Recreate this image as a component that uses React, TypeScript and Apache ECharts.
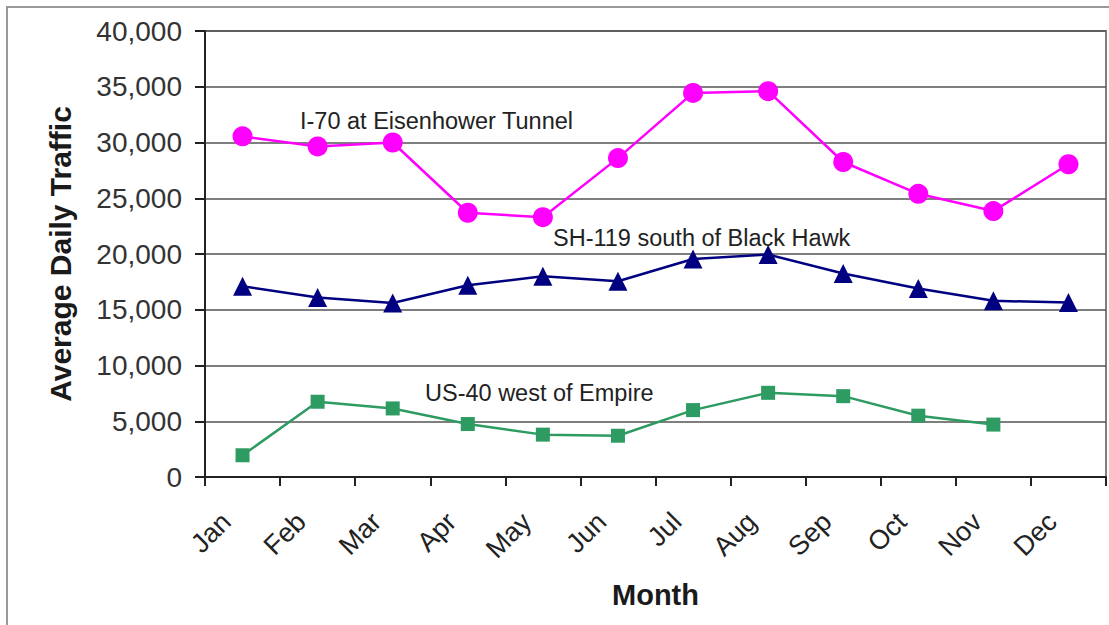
import React, { useEffect, useRef } from "react";
import * as echarts from "echarts";

const months = ["Jan", "Feb", "Mar", "Apr", "May", "Jun", "Jul", "Aug", "Sep", "Oct", "Nov", "Dec"];
const i70 = [30550, 29650, 30000, 23700, 23300, 28600, 34450, 34600, 28250, 25400, 23850, 28050];
const sh119 = [17100, 16100, 15600, 17200, 18000, 17550, 19550, 19950, 18250, 16900, 15800, 15650];
const us40 = [1950, 6750, 6150, 4750, 3800, 3700, 6000, 7550, 7250, 5500, 4700, null];
const seriesNames = ["I-70 at Eisenhower Tunnel", "SH-119 south of Black Hawk", "US-40 west of Empire"];

const FONT = "Liberation Sans, Arial, sans-serif";

export default function App() {
  const ref = useRef<HTMLDivElement>(null);
  useEffect(() => {
    const chart = echarts.init(ref.current!, null, { renderer: "svg" });
    chart.setOption({
      animation: false,
      backgroundColor: "#fff",
      textStyle: { fontFamily: FONT },
      grid: {
        left: 205,
        right: 3,
        top: 31,
        bottom: 148,
        show: true,
        borderColor: "#808080",
        borderWidth: 2,
      },
      xAxis: {
        type: "category",
        data: months,
        boundaryGap: true,
        name: "Month",
        nameLocation: "middle",
        nameGap: 103,
        nameTextStyle: { fontFamily: FONT, fontSize: 29, fontWeight: "bold", color: "#1a1a1a" },
        axisLine: { show: true, lineStyle: { color: "#222", width: 2 } },
        axisTick: { show: true, length: 9, lineStyle: { color: "#222", width: 2 } },
        axisLabel: {
          rotate: 45,
          fontSize: 27,
          color: "#222",
          margin: 24,
          padding: [0, 23, 0, 0],
          fontFamily: FONT,
        },
        splitLine: { show: false },
      },
      yAxis: {
        type: "value",
        min: 0,
        max: 40000,
        interval: 5000,
        name: "Average Daily Traffic",
        nameLocation: "middle",
        nameGap: 130,
        nameRotate: 90,
        nameTextStyle: { fontFamily: FONT, fontSize: 30, fontWeight: "bold", color: "#1a1a1a" },
        axisLine: { show: true, lineStyle: { color: "#222", width: 2 } },
        axisTick: { show: true, length: 10, lineStyle: { color: "#222", width: 2 } },
        axisLabel: {
          fontSize: 28,
          color: "#333",
          margin: 23,
          fontFamily: FONT,
          formatter: (v: number) => v.toLocaleString("en-US"),
        },
        splitLine: { show: true, lineStyle: { color: "#555", width: 1.5 } },
      },
      series: [
        {
          name: seriesNames[0],
          type: "line",
          data: i70,
          symbol: "circle",
          symbolSize: 20,
          itemStyle: { color: "#FF00FF" },
          lineStyle: { color: "#FF00FF", width: 2.5 },
          z: 3,
        },
        {
          name: seriesNames[1],
          type: "line",
          data: sh119,
          symbol: "triangle",
          symbolSize: 19,
          itemStyle: { color: "#000080" },
          lineStyle: { color: "#000080", width: 2.5 },
          z: 3,
        },
        {
          name: seriesNames[2],
          type: "line",
          data: us40,
          symbol: "rect",
          symbolSize: 14,
          itemStyle: { color: "#2E9B62" },
          lineStyle: { color: "#2E9B62", width: 2.5 },
          z: 3,
        },
      ],
      graphic: [
        {
          type: "rect",
          shape: { x: 7, y: 7, width: 1120, height: 640 },
          style: { fill: "none", stroke: "#999", lineWidth: 2 },
          silent: true,
          z: -10,
        },
        {
          type: "text",
          left: 300,
          top: 109,
          style: { text: seriesNames[0], fontSize: 23.5, fontFamily: FONT, fill: "#222" },
          z: 10,
        },
        {
          type: "text",
          left: 553,
          top: 226,
          style: { text: seriesNames[1], fontSize: 23.5, fontFamily: FONT, fill: "#222" },
          z: 10,
        },
        {
          type: "text",
          left: 425,
          top: 381,
          style: { text: seriesNames[2], fontSize: 23.5, fontFamily: FONT, fill: "#222" },
          z: 10,
        },
      ],
    });
    return () => chart.dispose();
  }, []);
  return (
    <div
      ref={ref}
      style={{ width: 1109, height: 625, position: "absolute", left: 0, top: 0 }}
    />
  );
}
